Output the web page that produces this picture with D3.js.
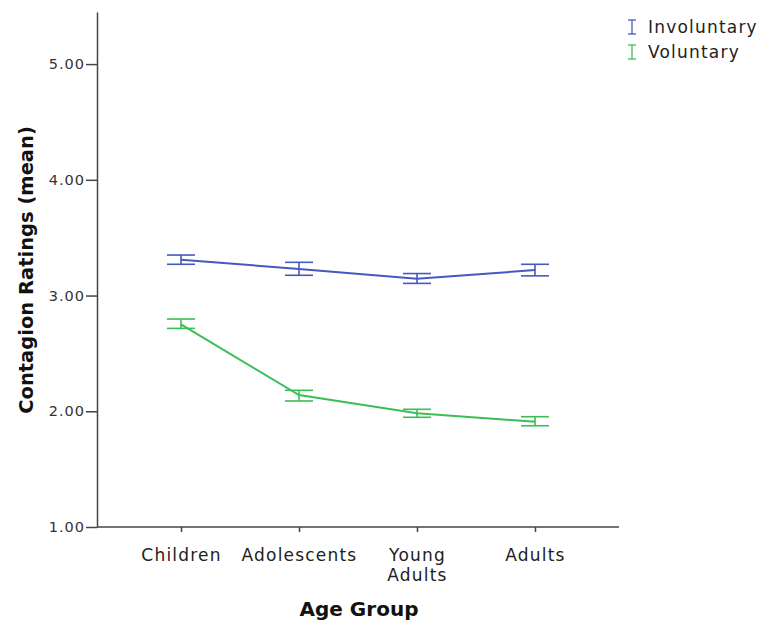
<!DOCTYPE html>
<html>
<head>
<meta charset="utf-8">
<script src="https://cdn.jsdelivr.net/npm/d3@7"></script>
<style>
body { margin: 0; background: #fff; }
svg { display: block; font-family: "DejaVu Sans", sans-serif; }
</style>
</head>
<body>
<svg id="chart" width="759" height="623"></svg>
<script>
const categories = ["Children", "Adolescents", "Young Adults", "Adults"];
const categoryLines = [["Children"], ["Adolescents"], ["Young", "Adults"], ["Adults"]];
const seriesNames = ["Involuntary", "Voluntary"];
const involuntaryMean = [3.31, 3.23, 3.145, 3.22];
const involuntaryLow  = [3.27, 3.175, 3.105, 3.17];
const involuntaryHigh = [3.35, 3.287, 3.19, 3.27];
const voluntaryMean = [2.75, 2.14, 1.982, 1.91];
const voluntaryLow  = [2.716, 2.089, 1.948, 1.875];
const voluntaryHigh = [2.797, 2.181, 2.017, 1.953];
const yTicks = [1, 2, 3, 4, 5];
const colors = ["#4559c0", "#3dbd55"];

(function() {
const series = [
  { name: seriesNames[0], mean: involuntaryMean, low: involuntaryLow, high: involuntaryHigh, color: colors[0] },
  { name: seriesNames[1], mean: voluntaryMean, low: voluntaryLow, high: voluntaryHigh, color: colors[1] }
];

const FONT = "'DejaVu Sans', sans-serif";
const svg = d3.select("#chart");
const mLeft = 97, mRight = 619, mTop = 12, mBottom = 527;

const x = d3.scalePoint().domain(categories).range([mLeft, mRight]).padding(0.712);
const y = d3.scaleLinear().domain([1, 5.45]).range([mBottom, mTop]);

const axisColor = "#444";

// Y axis
const yAxis = svg.append("g").attr("transform", `translate(${mLeft},0)`)
  .call(d3.axisLeft(y).tickValues(yTicks).tickFormat(d3.format(".2f")).tickSize(11).tickSizeOuter(0))
  .attr("font-family", FONT);
yAxis.select(".domain").attr("stroke", axisColor).attr("stroke-width", 1.5);
yAxis.selectAll(".tick line").attr("stroke", axisColor).attr("stroke-width", 1.5);
yAxis.selectAll(".tick text").attr("font-size", 14.5).attr("letter-spacing", 1).attr("fill", "#333").attr("x", -12);

// X axis
const xAxis = svg.append("g").attr("transform", `translate(0,${mBottom})`)
  .call(d3.axisBottom(x).tickSize(5).tickSizeOuter(0).tickFormat(""))
  .attr("font-family", FONT);
xAxis.select(".domain").attr("stroke", axisColor).attr("stroke-width", 1.5)
  .attr("d", `M${mLeft},0H${mRight}`);
xAxis.selectAll(".tick line").attr("stroke", axisColor).attr("stroke-width", 1.5);
xAxis.selectAll(".tick").each(function(d, i) {
  const t = d3.select(this).append("text").attr("fill", "#222").attr("font-size", 17)
    .attr("letter-spacing", 1.2).attr("text-anchor", "middle");
  categoryLines[i].forEach((ln, j) => {
    t.append("tspan").attr("x", 0).attr("y", 34 + j * 20).text(ln);
  });
});

// Axis titles
svg.append("text").attr("transform", `translate(33,270) rotate(-90)`)
  .attr("text-anchor", "middle").attr("font-size", 19.5).attr("font-weight", "bold").attr("fill", "#111")
  .text("Contagion Ratings (mean)");
svg.append("text").attr("x", 359).attr("y", 616).attr("text-anchor", "middle")
  .attr("font-size", 20).attr("font-weight", "bold").attr("fill", "#111").text("Age Group");

// Lines and error bars
const capHalf = 14;
series.forEach(s => {
  const line = d3.line().x((d, i) => x(categories[i])).y(d => y(d));
  svg.append("path").datum(s.mean).attr("d", line)
    .attr("fill", "none").attr("stroke", s.color).attr("stroke-width", 2);
  const g = svg.append("g").attr("stroke", s.color).attr("stroke-width", 1.6);
  categories.forEach((c, i) => {
    const cx = x(c);
    g.append("line").attr("x1", cx).attr("x2", cx).attr("y1", y(s.low[i])).attr("y2", y(s.high[i]));
    g.append("line").attr("x1", cx - capHalf).attr("x2", cx + capHalf).attr("y1", y(s.low[i])).attr("y2", y(s.low[i]));
    g.append("line").attr("x1", cx - capHalf).attr("x2", cx + capHalf).attr("y1", y(s.high[i])).attr("y2", y(s.high[i]));
  });
});

// Legend
const legend = svg.append("g").attr("transform", "translate(632,27)");
series.forEach((s, i) => {
  const g = legend.append("g").attr("transform", `translate(0,${i * 25})`);
  g.append("line").attr("x1", 0).attr("x2", 0).attr("y1", -7).attr("y2", 7).attr("stroke", s.color).attr("stroke-width", 1.3);
  g.append("line").attr("x1", -4).attr("x2", 4).attr("y1", -7).attr("y2", -7).attr("stroke", s.color).attr("stroke-width", 1.3);
  g.append("line").attr("x1", -4).attr("x2", 4).attr("y1", 7).attr("y2", 7).attr("stroke", s.color).attr("stroke-width", 1.3);
  g.append("text").attr("x", 16).attr("y", 6).attr("font-size", 17).attr("letter-spacing", 1.2).attr("fill", "#222").text(s.name);
});
})();
</script>
</body>
</html>
